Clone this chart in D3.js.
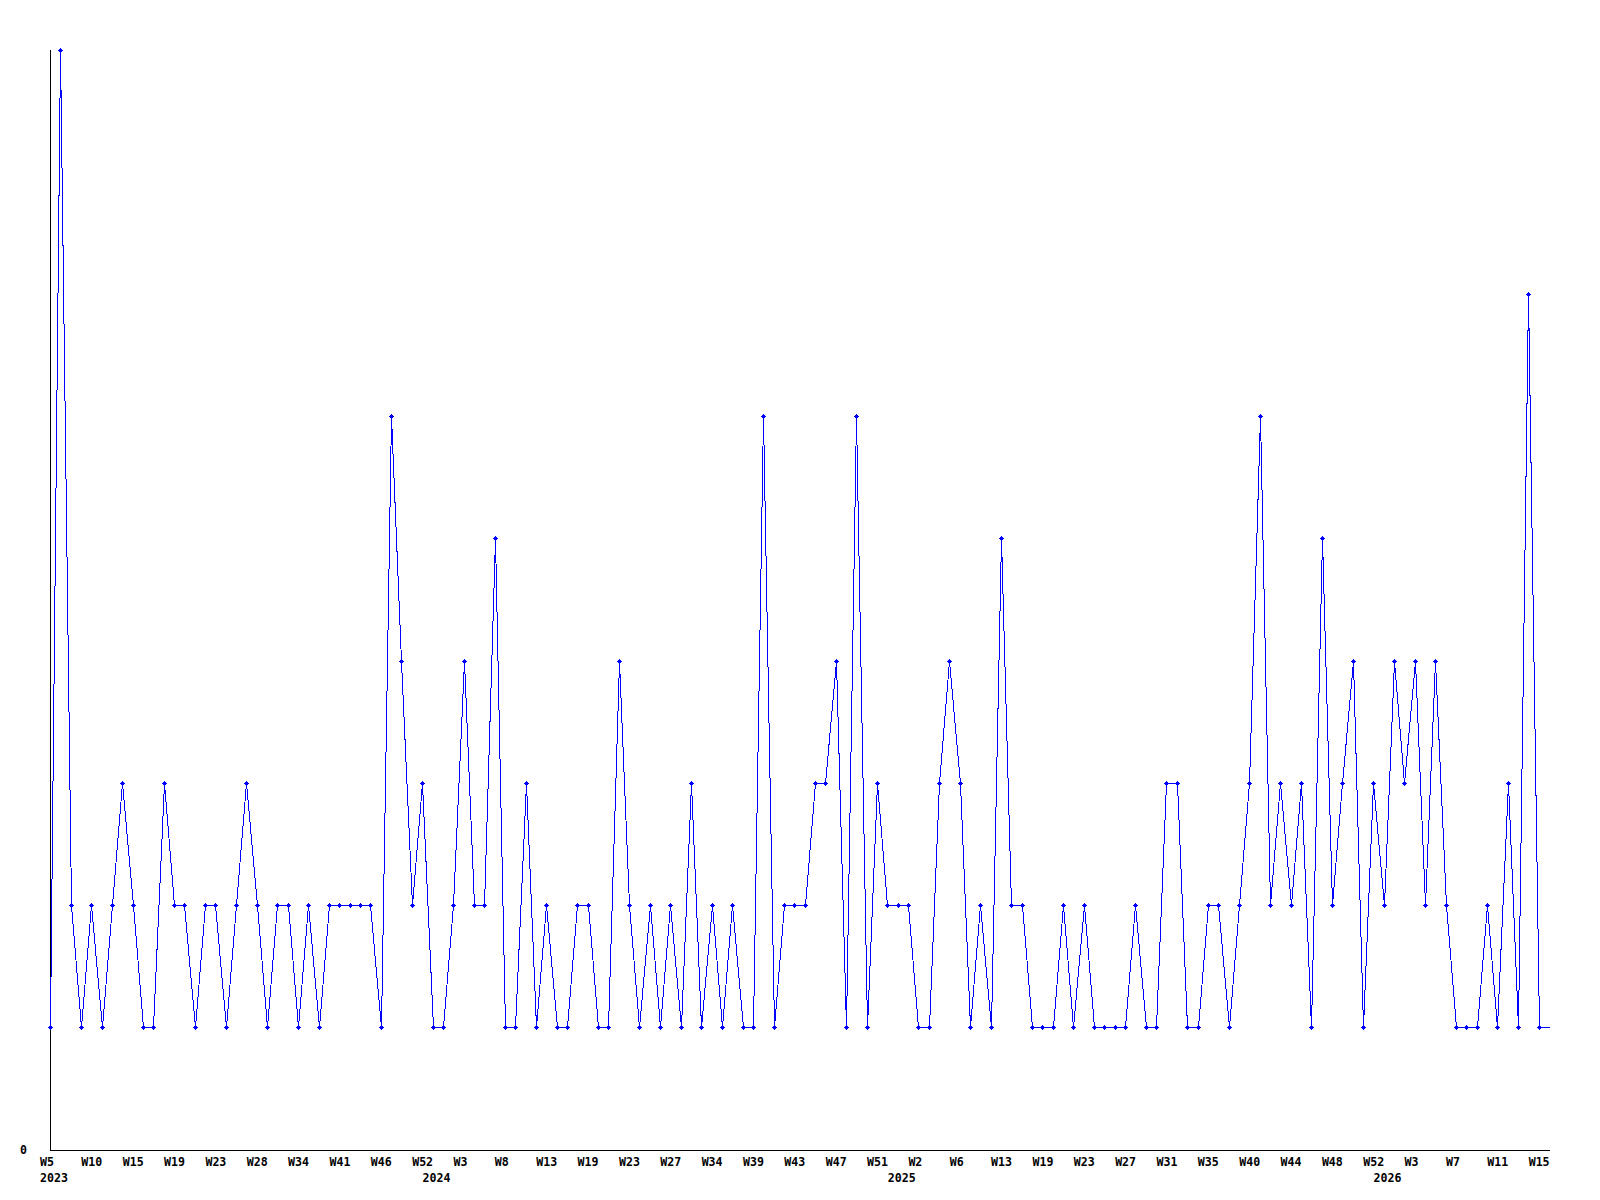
<!DOCTYPE html>
<html>
<head>
<meta charset="utf-8">
<script src="https://cdn.jsdelivr.net/npm/d3@7"></script>
<style>
    body { margin: 0; background: #fff; }
    text { font-family: "DejaVu Sans Mono", monospace; font-weight: bold; font-size: 11.6px; fill: #000; }
</style>
</head>
<body>
<svg id="chart_svg"></svg>
<script>
// weekly counts, one per point (weeks without entries are not in the series)
var counts = [
    1, 9, 2, 1, 2, 1, 2, 3, 2, 1,
    1, 3, 2, 2, 1, 2, 2, 1, 2, 3,
    2, 1, 2, 2, 1, 2, 1, 2, 2, 2,
    2, 2, 1, 6, 4, 2, 3, 1, 1, 2,
    4, 2, 2, 5, 1, 1, 3, 1, 2, 1,
    1, 2, 2, 1, 1, 4, 2, 1, 2, 1,
    2, 1, 3, 1, 2, 1, 2, 1, 1, 6,
    1, 2, 2, 2, 3, 3, 4, 1, 6, 1,
    3, 2, 2, 2, 1, 1, 3, 4, 3, 1,
    2, 1, 5, 2, 2, 1, 1, 1, 2, 1,
    2, 1, 1, 1, 1, 2, 1, 1, 3, 3,
    1, 1, 2, 2, 1, 2, 3, 6, 2, 3,
    2, 3, 1, 5, 2, 3, 4, 1, 3, 2,
    4, 3, 4, 2, 4, 2, 1, 1, 1, 2,
    1, 3, 1, 7, 1
];

// a week label on every 4th point
var weekLabels = ["W5", "W10", "W15", "W19", "W23", "W28", "W34", "W41", "W46", "W52",
    "W3", "W8", "W13", "W19", "W23", "W27", "W34", "W39", "W43", "W47", "W51",
    "W2", "W6", "W13", "W19", "W23", "W27", "W31", "W35", "W40", "W44", "W48", "W52",
    "W3", "W7", "W11", "W15"];
var labelEvery = 4;

var years = ["2023", "2024", "2025", "2026"];
var yearStart = [0, 37, 82, 129];   // point index where each year begins

var width = 1600,
    height = 1200;

var x = d3.scaleLinear()
    .domain([0, counts.length])
    .range([50, 1549]);

var y = d3.scaleLinear()
    .domain([0, d3.max(counts)])
    .range([1149, 50]);

var svg = d3.select("#chart_svg")
    .attr("width", width)
    .attr("height", height);

// axes: plain black lines, only a "0" on the value axis
svg.append("line")
    .attr("x1", 50.5).attr("x2", 50.5)
    .attr("y1", y.range()[1]).attr("y2", 1150.5)
    .style("stroke", "#000")
    .style("shape-rendering", "crispEdges");

svg.append("line")
    .attr("x1", 50).attr("x2", x.range()[1] + 1)
    .attr("y1", 1150.5).attr("y2", 1150.5)
    .style("stroke", "#000")
    .style("shape-rendering", "crispEdges");

svg.append("text")
    .attr("x", 27)
    .attr("y", 1154)
    .attr("text-anchor", "end")
    .text("0");

svg.append("g")
    .selectAll("text")
    .data(weekLabels)
    .enter()
    .append("text")
    .attr("x", function (d, i) { return x(i * labelEvery) - 10; })
    .attr("y", 1166)
    .text(function (d) { return d; });

svg.append("g")
    .selectAll("text")
    .data(years)
    .enter()
    .append("text")
    .attr("x", function (d, i) { return x(yearStart[i]) - 10; })
    .attr("y", 1182)
    .text(function (d) { return d; });

// the series runs on flat to the right edge after the last point
var linePts = counts.map(function (d, i) { return [i, d]; });
linePts.push([counts.length, counts[counts.length - 1]]);

var line = d3.line()
    .x(function (d) { return Math.round(x(d[0])) + 0.5; })
    .y(function (d) { return Math.round(y(d[1])) + 0.5; });

svg.append("path")
    .datum(linePts)
    .attr("d", line)
    .style("fill", "none")
    .style("stroke", "#0000ff")
    .style("stroke-width", "1px")
    .style("shape-rendering", "crispEdges");

// small plus markers on each week
var marks = svg.append("g")
    .style("fill", "#0000ff")
    .style("shape-rendering", "crispEdges")
    .selectAll("g")
    .data(counts)
    .enter()
    .append("g")
    .attr("transform", function (d, i) {
        return "translate(" + Math.round(x(i)) + "," + Math.round(y(d)) + ")";
    });

marks.append("rect").attr("x", -2).attr("y", 0).attr("width", 5).attr("height", 1);
marks.append("rect").attr("x", 0).attr("y", -2).attr("width", 1).attr("height", 5);
marks.append("rect").attr("x", -1).attr("y", -1).attr("width", 3).attr("height", 3);
</script>
</body>
</html>
